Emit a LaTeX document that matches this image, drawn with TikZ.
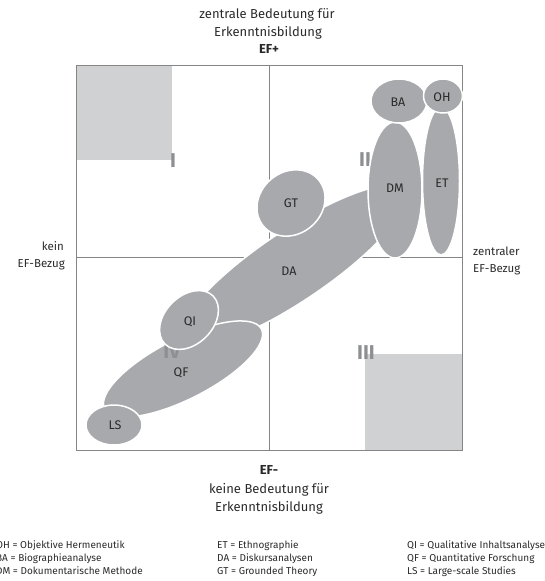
\documentclass[tikz,border=0pt]{standalone}
\usepackage{fontspec}
\setmainfont{Fira Sans}
\definecolor{blobgray}{HTML}{A8A9AC}
\definecolor{lightsq}{HTML}{D0D1D3}
\definecolor{numgray}{HTML}{8E8F92}
\definecolor{framegray}{HTML}{858585}
\definecolor{txt}{HTML}{2A2A2A}
\begin{document}
\begin{tikzpicture}[x=1pt,y=-1pt,
  blob/.style={fill=blobgray, draw=white, line width=1.5pt},
  lbl/.style={font=\fontsize{12.5}{14}\selectfont, text=txt, inner sep=0pt},
  axislbl/.style={font=\fontsize{13}{15}\selectfont, text=txt, inner sep=0pt, anchor=base},
  axisbold/.style={font=\fontsize{13}{15}\selectfont\bfseries, text=txt, inner sep=0pt, anchor=base},
  sidelbl/.style={font=\fontsize{11.5}{13}\selectfont, text=txt, inner sep=0pt},
  numeral/.style={font=\fontsize{20}{20}\selectfont\bfseries, text=numgray, inner sep=0pt},
  legend/.style={font=\fontsize{10}{12}\selectfont, text=txt, inner sep=0pt, anchor=base west}]
\useasboundingbox (0,0) rectangle (545,581);
\clip (0,0) rectangle (545,581);
% light squares
\fill[lightsq] (76,65) rectangle (172,160);
\fill[lightsq] (365,354) rectangle (462,450);
% frame and axes
\draw[framegray, line width=1pt] (76,65) rectangle (462,450);
\draw[framegray, line width=0.8pt] (269,65) -- (269,450);
\draw[framegray, line width=0.8pt] (76,257) -- (462,257);
% ellipses
\draw[blob, rotate around={34:(293,266)}] (293,266) ellipse [x radius=135pt, y radius=35pt];
\draw[blob, rotate around={27:(183,369)}] (183,369) ellipse [x radius=88pt, y radius=30pt];
% numerals
\node[numeral] (n1) at (173,161) {I};
\node[numeral] (n2) at (365,160) {II};
\node[numeral] (n3) at (366,353) {III};
\node[numeral] (n4) at (172,352) {IV};
\draw[blob, rotate around={45:(189,320)}] (189,320) ellipse [x radius=34pt, y radius=24pt];
\draw[blob] (114,425) ellipse [x radius=28pt, y radius=20pt];
\draw[blob, rotate around={40:(291,203)}] (291,203) ellipse [x radius=36pt, y radius=31pt];
\draw[blob] (395,190) ellipse [x radius=27pt, y radius=68pt];
\draw[blob] (399,101) ellipse [x radius=28pt, y radius=22pt];
\draw[blob] (441,181) ellipse [x radius=18.5pt, y radius=74pt];
\draw[blob] (443,96) ellipse [x radius=19.5pt, y radius=17pt];
% ellipse labels
\node[lbl] (BA) at (398,102) {BA};
\node[lbl] (OH) at (442,97) {OH};
\node[lbl] (DM) at (395,188) {DM};
\node[lbl] (ET) at (442,183) {ET};
\node[lbl] (GT) at (291,203) {GT};
\node[lbl] (DA) at (289,271) {DA};
\node[lbl] (QI) at (190,322) {QI};
\node[lbl] (QF) at (181,373) {QF};
\node[lbl] (LS) at (115,425) {LS};
% axis labels
\node[axislbl] (t1) at (267,18.5) {zentrale Bedeutung für};
\node[axislbl] (t2) at (268,36.5) {Erkenntnisbildung};
\node[axisbold] (t3) at (269,53.5) {EF+};
\node[axisbold] (b1) at (269,474.5) {EF-};
\node[axislbl] (b2) at (269,493.5) {keine Bedeutung für};
\node[axislbl] (b3) at (269,511.5) {Erkenntnisbildung};
\node[sidelbl, anchor=base east] (l1) at (64,250) {kein};
\node[sidelbl, anchor=base east] (l2) at (65,267.5) {EF-Bezug};
\node[sidelbl, anchor=base west] (r1) at (473,255) {zentraler};
\node[sidelbl, anchor=base west] (r2) at (473,272) {EF-Bezug};
% legend
\node[legend] (g1) at (-4,548) {OH = Objektive Hermeneutik};
\node[legend] (g2) at (-4,561) {BA = Biographieanalyse};
\node[legend] (g3) at (-4,574) {DM = Dokumentarische Methode};
\node[legend] (g4) at (217,548) {ET = Ethnographie};
\node[legend] (g5) at (217,561) {DA = Diskursanalysen};
\node[legend] (g6) at (217,574) {GT = Grounded Theory};
\node[legend] (g7) at (407,548) {QI = Qualitative Inhaltsanalyse};
\node[legend] (g8) at (407,561) {QF = Quantitative Forschung};
\node[legend] (g9) at (407,574) {LS = Large-scale Studies};
\end{tikzpicture}
\end{document}
